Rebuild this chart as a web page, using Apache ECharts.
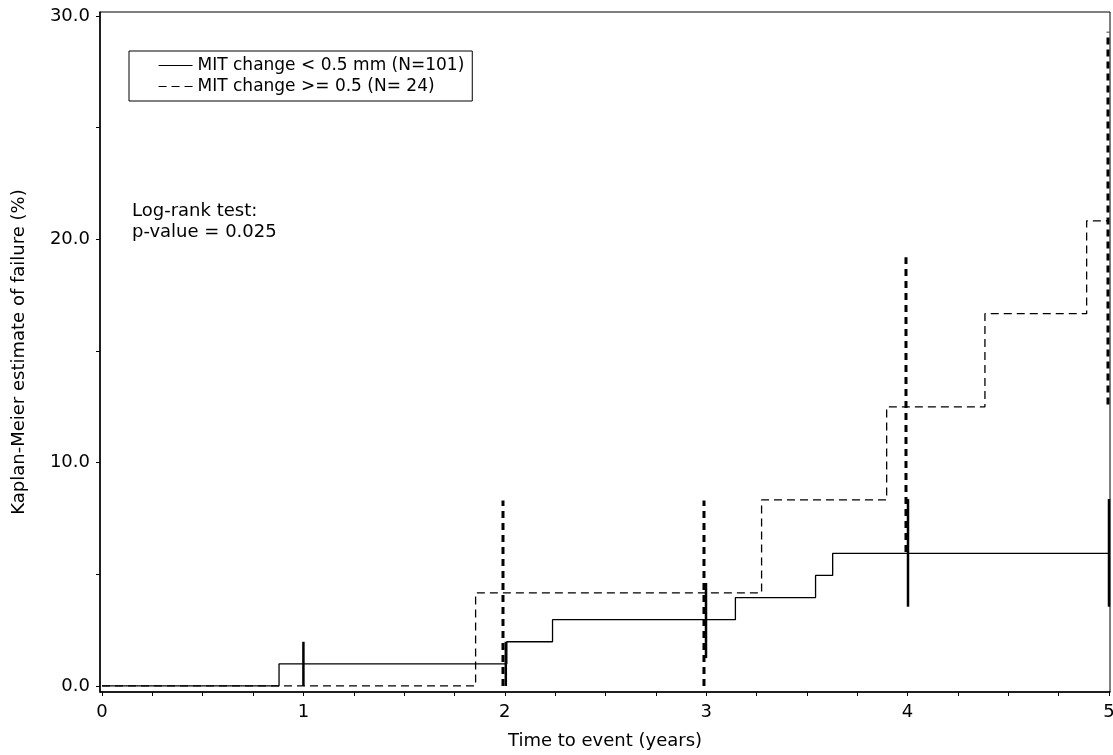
<!DOCTYPE html>
<html>
<head>
<meta charset="utf-8">
<script src="https://cdn.jsdelivr.net/npm/echarts@6/dist/echarts.min.js"></script>
<style>
html,body{margin:0;padding:0;background:#fff;}
#chart{width:1113px;height:755px;}
</style>
</head>
<body>
<div id="chart"></div>
<script>
// ---- Data ----
const seriesNames = ['MIT change < 0.5 mm (N=101)', 'MIT change >= 0.5 (N= 24)'];

// Kaplan-Meier step curves (time in years, failure %)
const solidTimes  = [0, 0.879, 2.01, 2.237, 3.145, 3.543, 3.628, 5.0];
const solidValues = [0, 0.99, 1.98, 2.97, 3.96, 4.95, 5.94, 5.94];
const dashedTimes  = [0, 1.855, 3.275, 3.896, 4.384, 4.889, 5.0];
const dashedValues = [0, 4.17, 8.33, 12.5, 16.67, 20.83, 20.83];

// Confidence-interval bars at yearly time points
const ciSolidTimes = [1.0, 2.005, 2.999, 4.002, 5.0];
const ciSolidLow   = [0, 0, 1.25, 3.55, 3.55];
const ciSolidHigh  = [1.98, 1.98, 4.61, 8.37, 8.37];
const ciDashedTimes = [1.991, 2.989, 3.992, 4.995];
const ciDashedLow   = [0, 0, 6.0, 12.6];
const ciDashedHigh  = [8.3, 8.3, 19.2, 29.3];

// Axis ticks and labels
const xTickValues = [0,0.25,0.5,0.75,1,1.25,1.5,1.75,2,2.25,2.5,2.75,3,3.25,3.5,3.75,4,4.25,4.5,4.75,5];
const xLabelValues = [0,1,2,3,4,5];
const yTickValues = [0,5,10,15,20,25,30];
const yLabelValues = [0,10,20,30];

const annotationLines = ['Log-rank test:', 'p-value = 0.025'];
const xTitle = 'Time to event (years)';
const yTitle = 'Kaplan-Meier estimate of failure (%)';

// ---- Build chart ----
const FONT = 'DejaVu Sans';
const toPairs = (xs, ys) => xs.map((x, i) => [x, ys[i]]);
const toCI = (ts, lo, hi) => ts.map((t, i) => [t, lo[i], hi[i]]);

function ciRenderer(width, dash) {
  return function (params, api) {
    const t = api.value(0);
    const p1 = api.coord([t, api.value(1)]);
    const p2 = api.coord([t, api.value(2)]);
    return {
      type: 'line',
      shape: {x1: p1[0], y1: p1[1], x2: p2[0], y2: p2[1]},
      style: {stroke: '#000', lineWidth: width, lineDash: dash}
    };
  };
}

const chart = echarts.init(document.getElementById('chart'), null, {renderer: 'canvas'});
chart.setOption({
  animation: false,
  backgroundColor: '#fff',
  textStyle: {fontFamily: FONT, color: '#000'},
  grid: {left: 100, right: 3, top: 12, bottom: 63, containLabel: false, outerBoundsMode: 'none',
         show: true, borderColor: '#000', borderWidth: 1, backgroundColor: 'transparent'},
  legend: {
    orient: 'vertical', left: 129, top: 51,
    data: seriesNames.map(n => ({name: n, itemStyle: {opacity: 0, borderWidth: 0}})),
    itemWidth: 34, itemHeight: 14, itemGap: 4,
    padding: [6, 8, 6, 29],
    borderColor: '#000', borderWidth: 1,
    itemStyle: {opacity: 0, borderWidth: 0},
    lineStyle: {width: 1.1},
    textStyle: {fontFamily: FONT, fontSize: 17, color: '#000'},
    selectedMode: false
  },
  xAxis: {
    type: 'value', min: -0.01, max: 5.005,
    name: xTitle, nameLocation: 'middle', nameGap: 40,
    nameTextStyle: {fontFamily: FONT, fontSize: 18, color: '#000'},
    axisLine: {show: true, onZero: false, lineStyle: {color: '#000', width: 1.5}},
    axisTick: {show: true, inside: false, length: 4, customValues: xTickValues, lineStyle: {color: '#000', width: 1}},
    axisLabel: {customValues: xLabelValues, margin: 11, fontFamily: FONT, fontSize: 18, color: '#000',
                formatter: v => String(v)},
    splitLine: {show: false}
  },
  yAxis: {
    type: 'value', min: -0.27, max: 30.18,
    name: yTitle, nameLocation: 'middle', nameGap: 72, nameRotate: 90,
    nameTextStyle: {fontFamily: FONT, fontSize: 18, color: '#000'},
    axisLine: {show: true, onZero: false, lineStyle: {color: '#000', width: 1.5}},
    axisTick: {show: true, inside: false, length: 4, customValues: yTickValues, lineStyle: {color: '#000', width: 1}},
    axisLabel: {customValues: yLabelValues, margin: 10, fontFamily: FONT, fontSize: 18, color: '#000',
                formatter: v => v.toFixed(1)},
    splitLine: {show: false}
  },
  series: [
    {
      name: seriesNames[0], type: 'line', step: 'end', symbol: 'none', showSymbol: false,
      data: toPairs(solidTimes, solidValues),
      lineStyle: {color: '#000', width: 1.3, type: 'solid'},
      itemStyle: {color: '#000'}, z: 3
    },
    {
      name: seriesNames[1], type: 'line', step: 'end', symbol: 'none', showSymbol: false,
      data: toPairs(dashedTimes, dashedValues),
      lineStyle: {color: '#000', width: 1.3, type: [8, 5]},
      itemStyle: {color: '#000'}, z: 3
    },
    {
      name: 'CI solid', type: 'custom', renderItem: ciRenderer(2.5, null),
      data: toCI(ciSolidTimes, ciSolidLow, ciSolidHigh), z: 4, silent: true
    },
    {
      name: 'CI dashed', type: 'custom', renderItem: ciRenderer(3, [7, 5]),
      data: toCI(ciDashedTimes, ciDashedLow, ciDashedHigh), z: 4, silent: true
    }
  ],
  graphic: [
    {
      type: 'text', left: 132, top: 201, z: 10,
      style: {text: annotationLines.join('\n'), fontFamily: FONT, fontSize: 18, lineHeight: 21, fill: '#000'}
    }
  ]
});
</script>
</body>
</html>
